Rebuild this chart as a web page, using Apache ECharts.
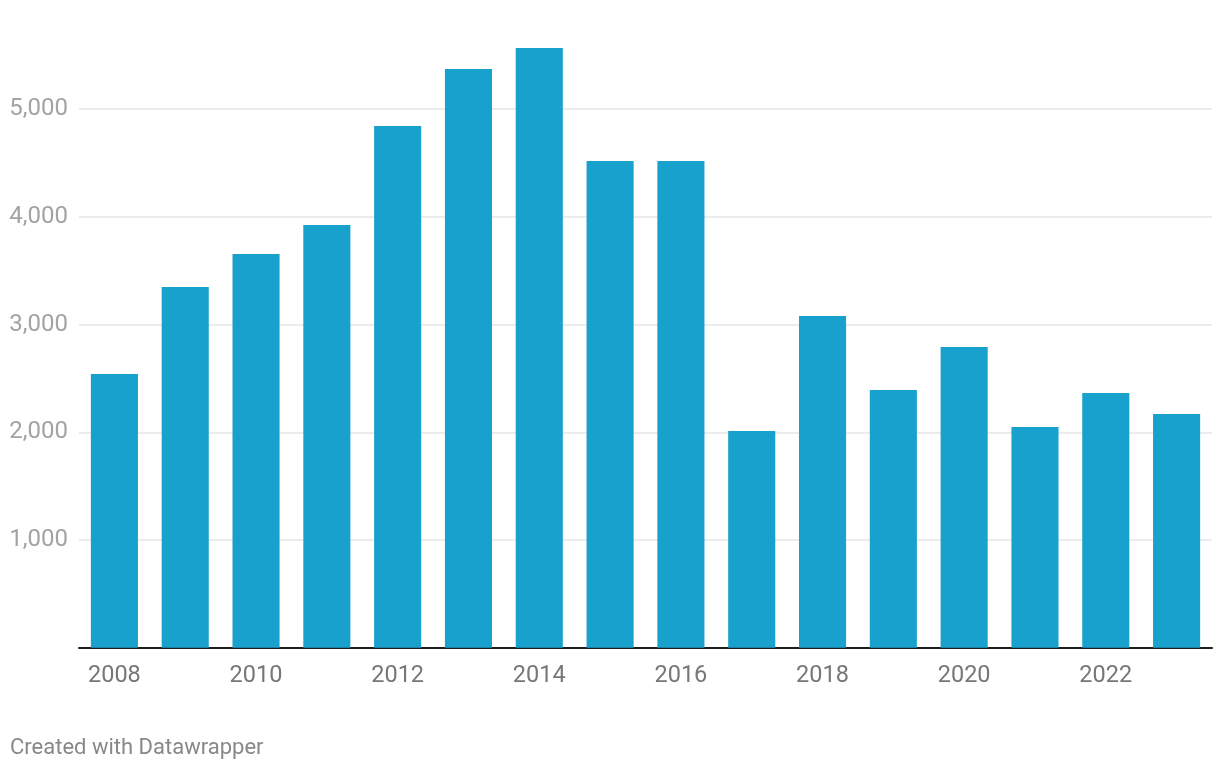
<!DOCTYPE html>
<html>
<head>
<meta charset="utf-8">
<script src="https://cdn.jsdelivr.net/npm/echarts@6/dist/echarts.min.js"></script>
<style>
html,body{margin:0;padding:0;background:#fff;}
#chart{width:1220px;height:770px;}
</style>
</head>
<body>
<div id="chart"></div>
<script>
const years = ['2008','2009','2010','2011','2012','2013','2014','2015','2016','2017','2018','2019','2020','2021','2022','2023'];
const values = [2541, 3349, 3655, 3925, 4844, 5373, 5568, 4519, 4519, 2012, 3080, 2393, 2792, 2049, 2365, 2170];
const yTicks = [0, 1000, 2000, 3000, 4000, 5000, 6000];

const chart = echarts.init(document.getElementById('chart'), null, {renderer: 'canvas'});
chart.setOption({
  animation: false,
  backgroundColor: '#ffffff',
  grid: {left: 79, right: 8, top: 1.5, bottom: 122.3, containLabel: false},
  xAxis: {
    type: 'category',
    data: years,
    axisLine: {show: true, lineStyle: {color: '#1d1d1d', width: 2}},
    axisTick: {show: false},
    axisLabel: {
      interval: 1,
      color: '#777777',
      fontFamily: 'Roboto',
      fontSize: 23.5,
      margin: 16
    }
  },
  yAxis: {
    type: 'value',
    min: yTicks[0],
    max: yTicks[yTicks.length - 1],
    interval: 1000,
    axisLine: {show: false},
    axisTick: {show: false},
    splitLine: {show: true, showMaxLine: false, lineStyle: {color: '#e6e6e6', width: 1.5}},
    axisLabel: {
      color: '#a3a3a3',
      fontFamily: 'Roboto',
      fontSize: 24,
      margin: 11,
      showMinLabel: false,
      showMaxLabel: false,
      formatter: v => v === 0 ? '' : v.toLocaleString('en-US')
    }
  },
  series: [{
    type: 'bar',
    data: values,
    barCategoryGap: '33.5%',
    itemStyle: {color: '#19a1cd'}
  }],
  graphic: [{
    type: 'text',
    left: 10,
    top: 737,
    style: {text: 'Created with Datawrapper', fill: '#888888', font: '22px Roboto'}
  }]
});
</script>
</body>
</html>
